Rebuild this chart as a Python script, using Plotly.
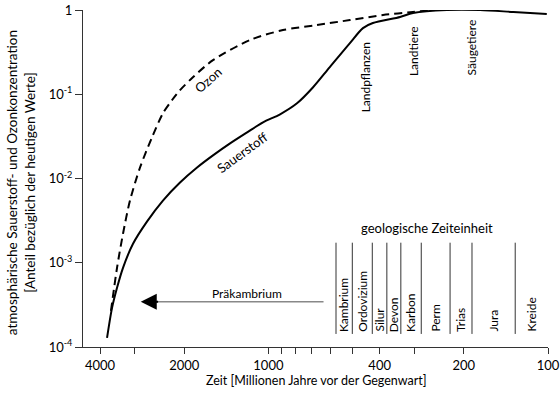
import math
import plotly.graph_objects as go

# --- data (millions of years before present, fraction of present-day level) ---
o2_age = [3776, 3624, 3478, 3311, 3049, 2718, 2383, 2070, 1799, 1578, 1371, 1191, 1045,
          908, 790, 692, 603, 511, 459, 423, 338, 304, 230, 175, 133, 101]
o2_val = [1.28e-4, 2.91e-4, 5.04e-4, 8.7e-4, 1.68e-3, 3.08e-3, 5.47e-3, 8.96e-3, 0.0135,
          0.0188, 0.0261, 0.0353, 0.0464, 0.0578, 0.078, 0.121, 0.21, 0.405, 0.61, 0.70,
          0.826, 0.92, 1.0, 1.0, 0.946, 0.896]

o3_age = [3656, 3478, 3311, 3126, 2878, 2608, 2383, 2213, 2070, 1862, 1578, 1164,
          887, 670, 511, 389, 304, 233]
o3_val = [2.68e-4, 8.7e-4, 2.21e-3, 5.47e-3, 0.0135, 0.0308, 0.0594, 0.0849, 0.112,
          0.159, 0.254, 0.44, 0.578, 0.663, 0.76, 0.871, 0.946, 1.03]

period_names = ["Kambrium", "Ordovizium", "Silur", "Devon", "Karbon", "Perm", "Trias",
                "Jura", "Kreide"]
period_start = [573, 501, 425, 377, 336, 284, 224, 187, 131]
period_end_last = 100

x_tickvals = [4000, 3000, 2000, 1000, 900, 800, 700, 600, 500, 400, 300, 200, 100]
x_ticktext = ["4000", "", "2000", "1000", "", "", "", "", "", "400", "", "200", "100"]
y_tickvals = [1e-4, 1e-3, 1e-2, 1e-1, 1]
y_ticktext = ["10<sup>-4</sup>", "10<sup>-3</sup>", "10<sup>-2</sup>", "10<sup>-1</sup>", "1"]

FONT = "Lato, Open Sans, sans-serif"
L = math.log10

fig = go.Figure()
fig.add_trace(go.Scatter(x=o3_age, y=o3_val, mode="lines",
                         line=dict(color="black", width=2, dash="8px,5px", shape="spline", smoothing=0.8),
                         hoverinfo="skip", showlegend=False))
fig.add_trace(go.Scatter(x=o2_age, y=o2_val, mode="lines",
                         line=dict(color="black", width=2, shape="spline", smoothing=0.8),
                         hoverinfo="skip", showlegend=False))

shapes = []
annotations = []

# geological period boundaries
line_bot, line_top = 10 ** -3.845, 10 ** -2.762
bounds = period_start + [period_end_last]
for i, name in enumerate(period_names):
    shapes.append(dict(type="line", xref="x", yref="y", x0=period_start[i], x1=period_start[i],
                       y0=line_bot, y1=line_top, line=dict(color="#333", width=1)))
    xm = (L(bounds[i]) + L(bounds[i + 1])) / 2
    annotations.append(dict(text=name, xref="x", yref="y", x=xm, y=-3.845, textangle=-90,
                            xanchor="center", yanchor="bottom", showarrow=False,
                            font=dict(family=FONT, size=12, color="black")))

# Präkambrium arrow
arrow_y = 10 ** -3.464
shapes.append(dict(type="line", xref="x", yref="y", x0=635, x1=2600, y0=arrow_y, y1=arrow_y,
                   line=dict(color="#888", width=1.5)))
annotations.append(dict(text="", xref="x", yref="y", x=L(2860), y=-3.464, ax=L(2450), ay=-3.464,
                        axref="x", ayref="y", showarrow=True, arrowhead=2, arrowsize=1.6,
                        arrowwidth=2, arrowcolor="black"))
annotations.append(dict(text="Präkambrium", xref="x", yref="y", x=L(1191), y=-3.369, showarrow=False,
                        font=dict(family=FONT, size=12, color="black")))
annotations.append(dict(text="geologische Zeiteinheit", xref="x", yref="y", x=L(271), y=-2.583,
                        showarrow=False, font=dict(family=FONT, size=13, color="black")))

# curve labels
annotations.append(dict(text="Ozon", xref="x", yref="y", x=L(1644), y=-0.833, textangle=-42,
                        showarrow=False, font=dict(family=FONT, size=13, color="black")))
annotations.append(dict(text="Sauerstoff", xref="x", yref="y", x=L(1233), y=-1.69, textangle=-36,
                        showarrow=False, font=dict(family=FONT, size=13, color="black")))
for txt, age, yy in [("Landpflanzen", 451, -0.798), ("Landtiere", 304, -0.488), ("Säugetiere", 188, -0.44)]:
    annotations.append(dict(text=txt, xref="x", yref="y", x=L(age), y=yy, textangle=-90,
                            showarrow=False, font=dict(family=FONT, size=12, color="black")))

# axis titles
annotations.append(dict(text="atmosphärische Sauerstoff- und Ozonkonzentration<br>[Anteil bezüglich der heutigen Werte]",
                        xref="paper", yref="paper", x=-0.134, y=0.488, textangle=-90,
                        xanchor="center", yanchor="middle", showarrow=False,
                        font=dict(family=FONT, size=13.5, color="black")))
annotations.append(dict(text="Zeit [Millionen Jahre vor der Gegenwart]", xref="paper", yref="paper",
                        x=0.503, y=-0.098, xanchor="center", yanchor="middle", showarrow=False,
                        font=dict(family=FONT, size=12.5, color="black")))

fig.update_layout(
    width=560, height=398,
    margin=dict(l=83, r=12, t=10, b=51, autoexpand=False),
    paper_bgcolor="white", plot_bgcolor="white",
    font=dict(family=FONT, size=12, color="black"),
    shapes=shapes, annotations=annotations,
    xaxis=dict(type="log", range=[3.663, 2.0], tickvals=x_tickvals, ticktext=x_ticktext,
               ticks="outside", ticklen=6, tickcolor="#333", showline=True, linecolor="#333",
               linewidth=1, showgrid=False, zeroline=False, tickfont=dict(size=13), automargin=False),
    yaxis=dict(type="log", range=[-4, 0], tickvals=y_tickvals, ticktext=y_ticktext,
               ticks="outside", ticklen=7, tickcolor="#333", showline=True, linecolor="#333",
               linewidth=1, showgrid=False, zeroline=False, tickfont=dict(size=13), automargin=False),
)

fig.write_html("out.html", config={"displayModeBar": False},
               post_script="document.body.style.margin='0';document.body.style.overflow='hidden';")
